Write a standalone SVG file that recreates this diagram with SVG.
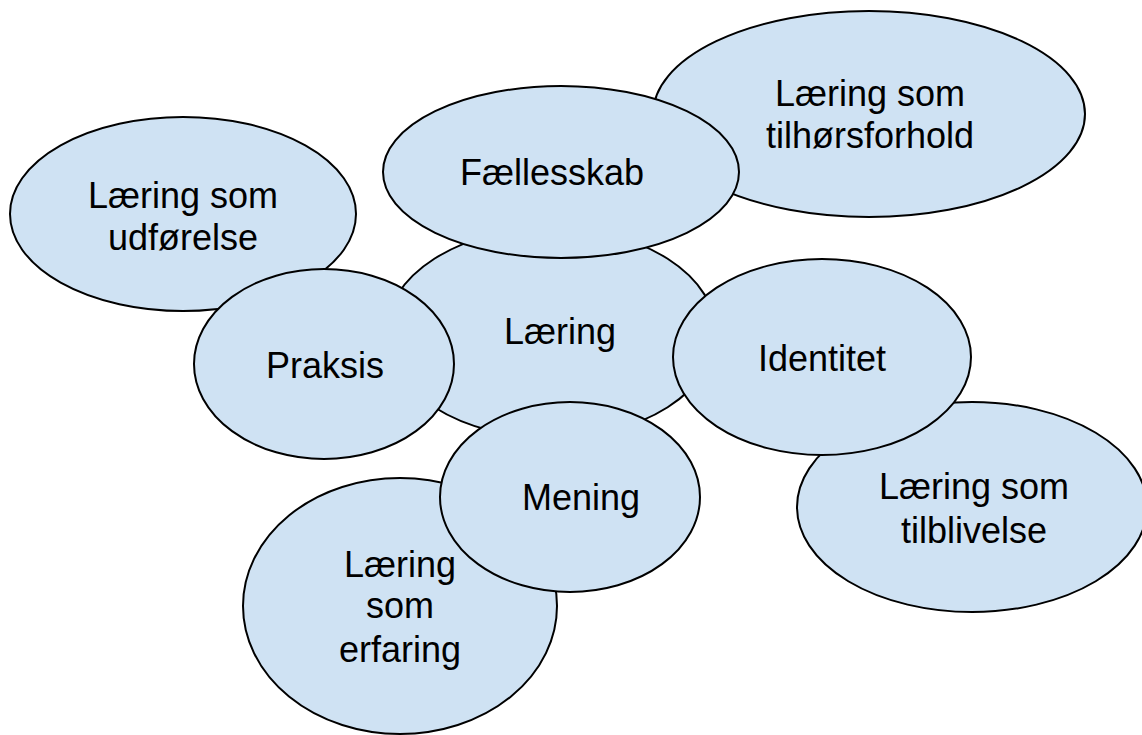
<svg xmlns="http://www.w3.org/2000/svg" width="1142" height="735" viewBox="0 0 1142 735">
  <style>
    .bubble { fill: #cfe2f3; stroke: #000000; stroke-width: 2; }
    .label { font-family: "Liberation Sans", Arial, sans-serif; font-size: 36px; fill: #000000; text-anchor: middle; }
  </style>
  <rect width="1142" height="735" fill="#ffffff"/>

  <!-- bubbles, back to front -->
  <g id="node-udforelse">
    <ellipse class="bubble" cx="183" cy="214" rx="173" ry="97"/>
    <text class="label" x="183" y="208">Læring som</text>
    <text class="label" x="183" y="250">udførelse</text>
  </g>
  <g id="node-tilhorsforhold">
    <ellipse class="bubble" cx="869" cy="114" rx="216" ry="103"/>
    <text class="label" x="870" y="106">Læring som</text>
    <text class="label" x="870" y="148">tilhørsforhold</text>
  </g>
  <g id="node-laering">
    <ellipse class="bubble" cx="551" cy="333" rx="165" ry="105"/>
    <text class="label" x="560" y="344">Læring</text>
  </g>
  <g id="node-faellesskab">
    <ellipse class="bubble" cx="561" cy="172" rx="178" ry="86"/>
    <text class="label" x="552" y="185">Fællesskab</text>
  </g>
  <g id="node-praksis">
    <ellipse class="bubble" cx="324" cy="364" rx="130" ry="95"/>
    <text class="label" x="325" y="378">Praksis</text>
  </g>
  <g id="node-tilblivelse">
    <ellipse class="bubble" cx="972" cy="507" rx="175" ry="105"/>
    <text class="label" x="974" y="499">Læring som</text>
    <text class="label" x="974" y="543">tilblivelse</text>
  </g>
  <g id="node-identitet">
    <ellipse class="bubble" cx="822" cy="357" rx="149" ry="98"/>
    <text class="label" x="822" y="371">Identitet</text>
  </g>
  <g id="node-erfaring">
    <ellipse class="bubble" cx="400" cy="606" rx="157" ry="128"/>
    <text class="label" x="400" y="577">Læring</text>
    <text class="label" x="400" y="618">som</text>
    <text class="label" x="400" y="662">erfaring</text>
  </g>
  <g id="node-mening">
    <ellipse class="bubble" cx="570" cy="497" rx="130" ry="95"/>
    <text class="label" x="581" y="510">Mening</text>
  </g>

  <g id="connectors"/>
</svg>
